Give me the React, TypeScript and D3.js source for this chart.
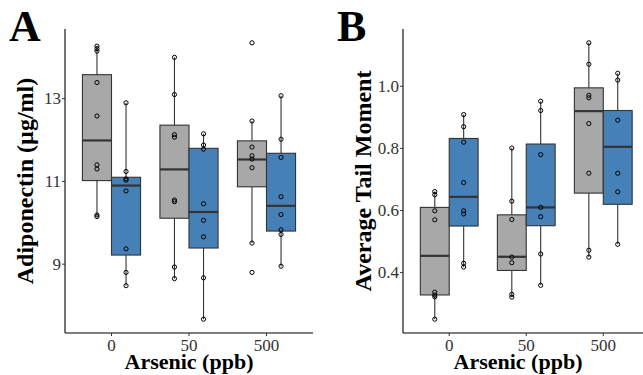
import * as d3 from "d3";

// doses on the x axis
const doses = ["0", "50", "500"];
const fills = ["grey", "blue"];
const fillColors: Record<string, string> = { grey: "#a8a8a8", blue: "#4581b7" };

// box stats per dose: [lower whisker, q1, median, q3, upper whisker]
const adipoGreyStats = [
  [10.15, 11.02, 11.99, 13.58, 14.27],
  [8.65, 10.11, 11.29, 12.36, 14.0],
  [9.51, 10.87, 11.53, 11.98, 12.46],
];
const adipoBlueStats = [
  [8.48, 9.22, 10.9, 11.1, 12.9],
  [7.67, 9.39, 10.26, 11.8, 12.15],
  [8.95, 9.8, 10.41, 11.68, 13.07],
];
const adipoGreyPoints = [
  [14.27, 14.21, 14.15, 13.39, 12.58, 11.4, 11.3, 10.19, 10.15],
  [14.0, 13.1, 12.13, 12.07, 10.55, 10.51, 8.93, 8.65],
  [14.35, 12.46, 11.83, 11.62, 11.54, 11.33, 9.51, 8.8],
];
const adipoBluePoints = [
  [12.9, 11.24, 11.06, 11.03, 10.77, 9.37, 8.8, 8.48],
  [12.15, 11.88, 11.78, 10.46, 10.06, 9.66, 8.67, 7.67],
  [13.07, 12.02, 11.58, 10.63, 10.2, 9.83, 9.72, 8.95],
];
const adipoTicks = [9, 11, 13];

const tailGreyStats = [
  [0.25, 0.328, 0.454, 0.61, 0.661],
  [0.321, 0.407, 0.451, 0.586, 0.801],
  [0.45, 0.656, 0.92, 0.995, 1.14],
];
const tailBlueStats = [
  [0.418, 0.55, 0.644, 0.832, 0.909],
  [0.359, 0.551, 0.61, 0.814, 0.952],
  [0.491, 0.62, 0.805, 0.922, 1.042],
];
const tailGreyPoints = [
  [0.661, 0.651, 0.599, 0.57, 0.337, 0.328, 0.322, 0.25],
  [0.801, 0.63, 0.571, 0.45, 0.432, 0.33, 0.321],
  [1.14, 1.071, 0.971, 0.963, 0.88, 0.72, 0.472, 0.45],
];
const tailBluePoints = [
  [0.909, 0.87, 0.82, 0.69, 0.599, 0.589, 0.43, 0.418],
  [0.952, 0.922, 0.78, 0.61, 0.58, 0.46, 0.359],
  [1.042, 1.02, 0.891, 0.72, 0.66, 0.491],
];
const tailTicks = [0.4, 0.6, 0.8, 1.0];

const FONT = "'Liberation Serif', 'Times New Roman', serif";
const TOP = 29;
const BOTTOM = 333;
const INK = "#333333";

type PanelProps = {
  left: number;
  right: number;
  letter: string;
  letterX: number;
  yTitle: string;
  stats: number[][][];
  points: number[][][];
  ticks: number[];
  tickFormat: (v: number) => string;
};

function Panel({ left, right, letter, letterX, yTitle, stats, points, ticks, tickFormat }: PanelProps) {
  // ggplot-ish: extend the data range by 5% each side
  const all = stats.flat(2).concat(points.flat(2));
  const [lo, hi] = d3.extent(all) as [number, number];
  const pad = (hi - lo) * 0.05;
  const y = d3.scaleLinear().domain([lo - pad, hi + pad]).range([BOTTOM, TOP]);

  const x = d3.scalePoint().domain(doses).range([left, right]).padding(0.6);
  const step = x.step();
  const dodge = d3
    .scaleBand()
    .domain(fills)
    .range([-0.375 * step, 0.375 * step]);
  const bw = dodge.bandwidth();

  const boxes = fills.flatMap((f, fi) =>
    doses.map((dose, di) => {
      const [wLo, q1, med, q3, wHi] = stats[fi][di];
      const x0 = (x(dose) as number) + (dodge(f) as number);
      const cx = x0 + bw / 2;
      return (
        <g key={f + dose}>
          <line x1={cx} x2={cx} y1={y(q3)} y2={y(wHi)} stroke={INK} strokeWidth={1.1} />
          <line x1={cx} x2={cx} y1={y(q1)} y2={y(wLo)} stroke={INK} strokeWidth={1.1} />
          <rect
            x={x0}
            y={y(q3)}
            width={bw}
            height={y(q1) - y(q3)}
            fill={fillColors[f]}
            stroke={INK}
            strokeWidth={1.1}
          />
          <line x1={x0} x2={x0 + bw} y1={y(med)} y2={y(med)} stroke={INK} strokeWidth={2.2} />
          {points[fi][di].map((v, i) => (
            <circle key={i} cx={cx} cy={y(v)} r={2.1} fill="none" stroke="#000" strokeWidth={1} />
          ))}
        </g>
      );
    })
  );

  // x title centred under the visible part of the panel
  const titleX = left === 65 ? 189 : 518;

  return (
    <g fontFamily={FONT}>
      <text x={letterX} y={41} fontSize={44} fontWeight="bold">
        {letter}
      </text>
      {boxes}
      <line x1={left} x2={left} y1={TOP} y2={BOTTOM} stroke="#000" strokeWidth={1.1} />
      <line x1={left} x2={right} y1={BOTTOM} y2={BOTTOM} stroke="#000" strokeWidth={1.1} />
      {ticks.map((t) => (
        <g key={t}>
          <line x1={left - 3} x2={left} y1={y(t)} y2={y(t)} stroke={INK} />
          <text x={left - 4} y={y(t)} dy="0.34em" textAnchor="end" fontSize={17} fill="#333">
            {tickFormat(t)}
          </text>
        </g>
      ))}
      {doses.map((d) => (
        <g key={d}>
          <line x1={x(d)} x2={x(d)} y1={BOTTOM} y2={BOTTOM + 3} stroke={INK} />
          <text x={x(d)} y={351} textAnchor="middle" fontSize={17} fill="#333">
            {d}
          </text>
        </g>
      ))}
      <text x={titleX} y={369} textAnchor="middle" fontSize={22} fontWeight="bold">
        Arsenic (ppb)
      </text>
      <text
        transform={`translate(${left - 32},${(TOP + BOTTOM) / 2}) rotate(-90)`}
        textAnchor="middle"
        fontSize={24}
        fontWeight="bold"
      >
        {yTitle}
      </text>
    </g>
  );
}

export default function App() {
  return (
    <svg
      width={643}
      height={375}
      style={{ position: "absolute", left: 0, top: 0, background: "#fff" }}
    >
      <Panel
        left={65}
        right={313}
        letter="A"
        letterX={9}
        yTitle="Adiponectin (µg/ml)"
        stats={[adipoGreyStats, adipoBlueStats]}
        points={[adipoGreyPoints, adipoBluePoints]}
        ticks={adipoTicks}
        tickFormat={(v) => String(v)}
      />
      <Panel
        left={403}
        right={649.5}
        letter="B"
        letterX={337}
        yTitle="Average Tail Moment"
        stats={[tailGreyStats, tailBlueStats]}
        points={[tailGreyPoints, tailBluePoints]}
        ticks={tailTicks}
        tickFormat={(v) => v.toFixed(1)}
      />
    </svg>
  );
}
